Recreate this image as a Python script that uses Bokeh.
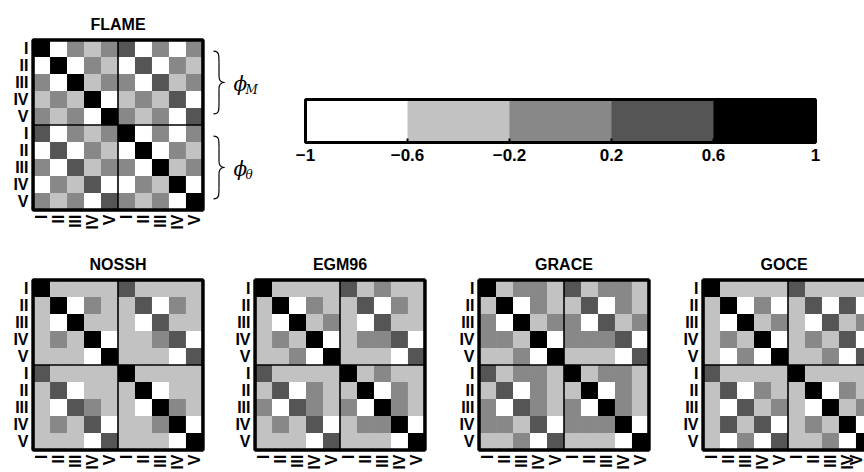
import math
from bokeh.plotting import figure
from bokeh.models import Range1d, FixedTicker, LinearColorMapper, ColumnDataSource, ColorBar
from bokeh.layouts import row, column
from bokeh.embed import file_html
from bokeh.resources import INLINE
from bokeh.core.properties import value

# ---------------- data ----------------
roman = ["I", "II", "III", "IV", "V", "I", "II", "III", "IV", "V"]
palette = ["#ffffff", "#c2c2c2", "#888888", "#555555", "#000000"]
cbar_edges = [-1, -0.6, -0.2, 0.2, 0.6, 1]
cbar_labels = ["\u22121", "\u22120.6", "\u22120.2", "0.2", "0.6", "1"]

flame = [
    [1.0, -0.8, 0.0, -0.4, 0.0, 0.4, -0.8, 0.0, -0.8, 0.0],
    [-0.8, 1.0, -0.8, 0.0, -0.4, -0.8, 0.4, -0.8, 0.0, -0.4],
    [0.0, -0.8, 1.0, -0.4, 0.0, 0.0, -0.8, 0.4, -0.4, 0.0],
    [-0.4, 0.0, -0.4, 1.0, -0.8, -0.4, 0.0, -0.4, 0.4, -0.8],
    [0.0, -0.4, 0.0, -0.8, 1.0, 0.0, -0.4, 0.0, -0.8, 0.4],
    [0.4, -0.8, 0.0, -0.4, 0.0, 1.0, -0.8, 0.0, -0.8, 0.0],
    [-0.8, 0.4, -0.8, 0.0, -0.4, -0.8, 1.0, -0.8, 0.0, -0.4],
    [0.0, -0.8, 0.4, -0.4, 0.0, 0.0, -0.8, 1.0, -0.4, 0.0],
    [-0.8, 0.0, -0.4, 0.4, -0.8, -0.8, 0.0, -0.4, 1.0, -0.8],
    [0.0, -0.4, 0.0, -0.8, 0.4, 0.0, -0.4, 0.0, -0.8, 1.0],
]
nossh = [
    [1.0, -0.4, -0.4, -0.4, -0.4, 0.4, -0.4, -0.4, -0.4, -0.4],
    [-0.4, 1.0, -0.8, 0.0, -0.4, -0.4, 0.4, -0.8, 0.0, -0.4],
    [-0.4, -0.8, 1.0, -0.4, -0.4, -0.4, -0.8, 0.4, -0.4, -0.4],
    [-0.4, 0.0, -0.4, 1.0, -0.8, -0.4, -0.4, 0.0, 0.4, -0.8],
    [-0.4, -0.4, -0.4, -0.8, 1.0, -0.4, -0.4, -0.4, -0.8, 0.4],
    [0.4, -0.4, -0.4, -0.4, -0.4, 1.0, -0.4, -0.4, -0.4, -0.4],
    [-0.4, 0.4, -0.8, -0.4, -0.4, -0.4, 1.0, -0.8, -0.4, -0.4],
    [-0.4, -0.8, 0.4, 0.0, -0.4, -0.4, -0.8, 1.0, 0.0, -0.4],
    [-0.4, 0.0, -0.4, 0.4, -0.8, -0.4, -0.4, 0.0, 1.0, -0.8],
    [-0.4, -0.4, -0.4, -0.8, 0.4, -0.4, -0.4, -0.4, -0.8, 1.0],
]
egm96 = [
    [1.0, -0.4, -0.4, -0.4, -0.4, 0.4, -0.4, 0.0, -0.4, -0.4],
    [-0.4, 1.0, -0.8, 0.0, -0.4, -0.4, 0.4, -0.8, 0.0, -0.4],
    [-0.4, -0.8, 1.0, -0.4, 0.0, -0.4, -0.8, 0.4, -0.4, -0.4],
    [-0.4, 0.0, -0.4, 1.0, -0.8, -0.4, 0.0, 0.0, 0.4, -0.8],
    [-0.4, -0.4, 0.0, -0.8, 1.0, -0.4, -0.4, -0.4, -0.8, 0.4],
    [0.4, -0.4, -0.4, -0.4, -0.4, 1.0, -0.4, 0.0, -0.4, -0.4],
    [-0.4, 0.4, -0.8, 0.0, -0.4, -0.4, 1.0, -0.8, 0.0, -0.4],
    [0.0, -0.8, 0.4, 0.0, -0.4, 0.0, -0.8, 1.0, 0.0, -0.4],
    [-0.4, 0.0, -0.4, 0.4, -0.8, -0.4, 0.0, 0.0, 1.0, -0.8],
    [-0.4, -0.4, -0.4, -0.8, 0.4, -0.4, -0.4, -0.4, -0.8, 1.0],
]
grace = [
    [1.0, -0.4, 0.0, 0.0, -0.4, 0.4, -0.4, 0.0, 0.0, -0.4],
    [-0.4, 1.0, -0.8, 0.0, -0.4, -0.4, 0.4, -0.8, 0.0, -0.4],
    [0.0, -0.8, 1.0, -0.4, 0.0, 0.0, -0.8, 0.4, -0.4, 0.0],
    [0.0, 0.0, -0.4, 1.0, -0.8, 0.0, 0.0, 0.0, 0.4, -0.8],
    [-0.4, -0.4, 0.0, -0.8, 1.0, -0.4, -0.4, -0.4, -0.8, 0.4],
    [0.4, -0.4, 0.0, 0.0, -0.4, 1.0, -0.4, 0.0, 0.0, -0.4],
    [-0.4, 0.4, -0.8, 0.0, -0.4, -0.4, 1.0, -0.8, 0.0, -0.4],
    [0.0, -0.8, 0.4, 0.0, -0.4, 0.0, -0.8, 1.0, 0.0, -0.4],
    [0.0, 0.0, -0.4, 0.4, -0.8, 0.0, 0.0, 0.0, 1.0, -0.8],
    [-0.4, -0.4, 0.0, -0.8, 0.4, -0.4, -0.4, -0.4, -0.8, 1.0],
]
goce = [
    [1.0, -0.4, -0.4, -0.4, -0.4, 0.4, -0.4, -0.4, -0.4, -0.4],
    [-0.4, 1.0, -0.8, 0.0, -0.8, -0.4, 0.4, -0.8, 0.4, -0.8],
    [-0.4, -0.8, 1.0, -0.4, 0.0, -0.4, -0.8, 0.4, -0.4, 0.0],
    [-0.4, 0.0, -0.4, 1.0, -0.8, -0.4, 0.0, -0.4, 0.4, -0.8],
    [-0.4, -0.8, 0.0, -0.8, 1.0, -0.4, -0.4, 0.0, -0.8, 0.4],
    [0.4, -0.4, -0.4, -0.4, -0.4, 1.0, -0.4, -0.4, -0.4, -0.4],
    [-0.4, 0.4, -0.8, 0.0, -0.4, -0.4, 1.0, -0.8, 0.0, -0.4],
    [-0.4, -0.8, 0.4, -0.4, 0.0, -0.4, -0.8, 1.0, -0.4, 0.0],
    [-0.4, 0.4, -0.4, 0.4, -0.8, -0.4, 0.0, -0.4, 1.0, -0.8],
    [-0.4, -0.8, 0.0, -0.8, 0.4, -0.4, -0.4, 0.0, -0.8, 1.0],
]

# ---------------- styling helpers ----------------
FONT = "Liberation Sans"
mapper = LinearColorMapper(palette=palette, low=-1, high=1)
PAD = 0.15
N = len(roman)


def make_matrix(name, mat, width, height, left, right, top, bottom, frame_w=175):
    unit = 175 / (N + 2 * PAD)
    x0 = -0.5 - PAD
    x1 = x0 + frame_w / unit
    p = figure(width=width, height=height, output_backend="svg", toolbar_location=None,
               x_range=Range1d(x0, x1), y_range=Range1d(N - 0.5 + PAD, -0.5 - PAD),
               min_border_left=left, min_border_right=right,
               min_border_top=top, min_border_bottom=bottom)
    p.title.text = name
    p.title.align = "center" if frame_w == 175 else "left"
    if frame_w != 175:
        p.title.offset = 60
    p.title.text_font = FONT
    p.title.text_font_style = "bold"
    p.title.text_font_size = "16px"
    p.title.text_color = "black"
    p.title.standoff = 10
    p.outline_line_color = None
    p.xgrid.visible = False
    p.ygrid.visible = False
    xs, ys, vs = [], [], []
    for i, r in enumerate(mat):
        for j, v in enumerate(r):
            xs.append(j)
            ys.append(i)
            vs.append(v)
    src = ColumnDataSource(dict(x=xs, y=ys, v=vs))
    p.rect(x="x", y="y", width=1, height=1, source=src,
           fill_color={"field": "v", "transform": mapper}, line_color=None)
    half = N / 2 - 0.5
    p.segment(x0=[half, -0.5], y0=[-0.5, half], x1=[half, N - 0.5], y1=[N - 0.5, half],
              line_color="black", line_width=1.6)
    p.quad(left=[-0.5], right=[N - 0.5], bottom=[N - 0.5], top=[-0.5],
           fill_color=None, line_color="black", line_width=3.5)
    ticks = list(range(N))
    over = {t: roman[t] for t in ticks}
    for ax in (p.xaxis[0], p.yaxis[0]):
        ax.ticker = FixedTicker(ticks=ticks)
        ax.major_label_overrides = over
        ax.axis_line_color = None
        ax.major_tick_line_color = None
        ax.minor_tick_line_color = None
        ax.major_tick_in = 0
        ax.major_tick_out = 0
        ax.major_label_text_font = FONT
        ax.major_label_text_font_style = "bold"
        ax.major_label_text_font_size = "16px"
        ax.major_label_text_color = "black"
        ax.major_label_standoff = 2
    p.xaxis[0].major_label_orientation = math.pi / 2
    p.xaxis[0].major_label_standoff = 2
    return p


# top row
f_flame = make_matrix("FLAME", flame, 205, 236, 30, 0, 37, 24)

# braces + colour-bar figure
f_br = figure(width=659, height=236, output_backend="svg", toolbar_location=None,
              x_range=Range1d(0, 659), y_range=Range1d(N - 0.5 + PAD, -0.5 - PAD),
              min_border_left=0, min_border_right=0, min_border_top=37, min_border_bottom=24)
f_br.axis.visible = False
f_br.grid.visible = False
f_br.outline_line_color = None
groups = ["M", "\u03b8"]
bx, bw = 8, 11
for g, sub in enumerate(groups):
    t = g * 5 + 0.15
    b = g * 5 + 3.85
    m = (t + b) / 2
    h = b - t
    xm = bx + 0.5 * bw
    f_br.bezier(x0=[bx, xm, bx, xm], y0=[t, m - 0.1 * h, b, m + 0.1 * h],
                x1=[xm, bx + bw, xm, bx + bw], y1=[t + 0.18 * h, m, b - 0.18 * h, m],
                cx0=[xm, xm, xm, xm], cy0=[t, m - 0.02 * h, b, m + 0.02 * h],
                cx1=[xm, bx + 0.75 * bw, xm, bx + 0.75 * bw], cy1=[t + 0.05 * h, m, b - 0.05 * h, m],
                line_color="black", line_width=1.2)
    f_br.segment(x0=[xm, xm], y0=[t + 0.18 * h, m + 0.1 * h], x1=[xm, xm], y1=[m - 0.1 * h, b - 0.18 * h],
                 line_color="black", line_width=1.2)
    f_br.text(x=[28], y=[m + 0.1], text=["\u03d5"], text_font=value("DejaVu Serif"),
              text_font_style="italic", text_font_size="20px", text_baseline="middle",
              text_align="left", text_color="black")
    f_br.text(x=[40], y=[m + 0.45], text=[sub], text_font=value("DejaVu Serif"),
              text_font_style="italic", text_font_size="12px", text_baseline="middle",
              text_align="left", text_color="black")

cb = ColorBar(color_mapper=mapper, orientation="horizontal", location=(100, 49),
              width=510, height=43, padding=0, margin=0,
              ticker=FixedTicker(ticks=cbar_edges),
              major_label_overrides={e: l for e, l in zip(cbar_edges, cbar_labels)},
              bar_line_color="black", bar_line_width=3,
              major_tick_line_color="black", major_tick_line_width=2,
              major_tick_in=4, major_tick_out=0, minor_tick_line_color=None,
              border_line_color=None, background_fill_color=None,
              label_standoff=6,
              major_label_text_font=FONT, major_label_text_font_style="bold",
              major_label_text_font_size="17px", major_label_text_color="black")
f_br.add_layout(cb, "center")

# bottom row
f1 = make_matrix("NOSSH", nossh, 222, 236, 30, 17, 41, 20)
f2 = make_matrix("EGM96", egm96, 224, 236, 30, 19, 41, 20)
f3 = make_matrix("GRACE", grace, 224, 236, 30, 19, 41, 20)
f4 = make_matrix("GOCE", goce, 194, 236, 30, 0, 41, 20, frame_w=164)

layout = column(row(f_flame, f_br), row(f1, f2, f3, f4))
open("out.html", "w").write(file_html(layout, INLINE))
